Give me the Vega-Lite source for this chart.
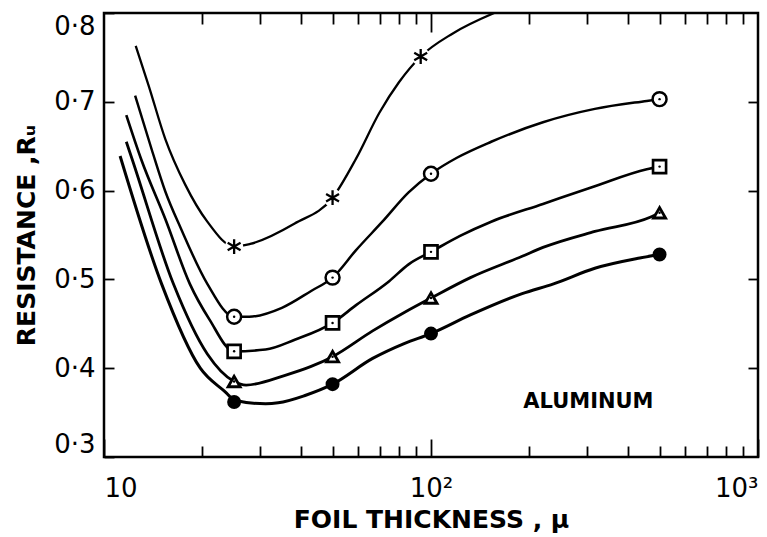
{
  "$schema": "https://vega.github.io/schema/vega-lite/v6.json",
  "width": 654,
  "height": 444,
  "autosize": {"type": "none"},
  "padding": {"left": 104, "right": 9, "top": 13, "bottom": 80},
  "background": "white",
  "config": {
    "view": {"stroke": "black", "strokeWidth": 2.5},
    "axis": {"grid": false, "domain": false, "tickColor": "black", "tickWidth": 1.8, "labelColor": "black", "titleColor": "black", "labelFont": "DejaVu Sans", "titleFont": "DejaVu Sans"}
  },
  "datasets": {
    "curves": [
      {"series": "star", "x": 12.5, "y": 0.763}, {"series": "star", "x": 13.7, "y": 0.718}, {"series": "star", "x": 15.4, "y": 0.658}, {"series": "star", "x": 17.7, "y": 0.607}, {"series": "star", "x": 20.7, "y": 0.565}, {"series": "star", "x": 25, "y": 0.537}, {"series": "star", "x": 28, "y": 0.54}, {"series": "star", "x": 38.3, "y": 0.563}, {"series": "star", "x": 50, "y": 0.592}, {"series": "star", "x": 59, "y": 0.636}, {"series": "star", "x": 69.6, "y": 0.688}, {"series": "star", "x": 79.8, "y": 0.722}, {"series": "star", "x": 93, "y": 0.751}, {"series": "star", "x": 116.6, "y": 0.777}, {"series": "star", "x": 156, "y": 0.8},
      {"series": "circle", "x": 12.45, "y": 0.707}, {"series": "circle", "x": 14.0, "y": 0.646}, {"series": "circle", "x": 15.4, "y": 0.599}, {"series": "circle", "x": 17.2, "y": 0.557}, {"series": "circle", "x": 20.7, "y": 0.495}, {"series": "circle", "x": 25, "y": 0.458}, {"series": "circle", "x": 27.8, "y": 0.458}, {"series": "circle", "x": 35, "y": 0.468}, {"series": "circle", "x": 43, "y": 0.487}, {"series": "circle", "x": 50, "y": 0.502}, {"series": "circle", "x": 59, "y": 0.533}, {"series": "circle", "x": 71, "y": 0.565}, {"series": "circle", "x": 85.4, "y": 0.598}, {"series": "circle", "x": 100, "y": 0.619}, {"series": "circle", "x": 120, "y": 0.637}, {"series": "circle", "x": 152.8, "y": 0.655}, {"series": "circle", "x": 220, "y": 0.677}, {"series": "circle", "x": 317, "y": 0.692}, {"series": "circle", "x": 457, "y": 0.701}, {"series": "circle", "x": 500, "y": 0.703},
      {"series": "square", "x": 11.7, "y": 0.685}, {"series": "square", "x": 13.0, "y": 0.635}, {"series": "square", "x": 15.4, "y": 0.568}, {"series": "square", "x": 18.3, "y": 0.495}, {"series": "square", "x": 21, "y": 0.455}, {"series": "square", "x": 25, "y": 0.419}, {"series": "square", "x": 31.2, "y": 0.421}, {"series": "square", "x": 38.3, "y": 0.432}, {"series": "square", "x": 50, "y": 0.451}, {"series": "square", "x": 59, "y": 0.471}, {"series": "square", "x": 74.5, "y": 0.498}, {"series": "square", "x": 85.4, "y": 0.517}, {"series": "square", "x": 100, "y": 0.531}, {"series": "square", "x": 122.7, "y": 0.549}, {"series": "square", "x": 152.8, "y": 0.565}, {"series": "square", "x": 220, "y": 0.585}, {"series": "square", "x": 317, "y": 0.605}, {"series": "square", "x": 457, "y": 0.624}, {"series": "square", "x": 500, "y": 0.627},
      {"series": "triangle", "x": 11.7, "y": 0.655}, {"series": "triangle", "x": 12.2, "y": 0.635}, {"series": "triangle", "x": 16.3, "y": 0.495}, {"series": "triangle", "x": 20.7, "y": 0.416}, {"series": "triangle", "x": 25, "y": 0.385}, {"series": "triangle", "x": 27.2, "y": 0.381}, {"series": "triangle", "x": 35.8, "y": 0.392}, {"series": "triangle", "x": 43, "y": 0.402}, {"series": "triangle", "x": 50, "y": 0.413}, {"series": "triangle", "x": 66.3, "y": 0.442}, {"series": "triangle", "x": 83.1, "y": 0.463}, {"series": "triangle", "x": 100, "y": 0.479}, {"series": "triangle", "x": 132, "y": 0.502}, {"series": "triangle", "x": 190, "y": 0.526}, {"series": "triangle", "x": 220, "y": 0.536}, {"series": "triangle", "x": 317, "y": 0.554}, {"series": "triangle", "x": 468, "y": 0.57}, {"series": "triangle", "x": 500, "y": 0.575},
      {"series": "filled", "x": 11.2, "y": 0.639}, {"series": "filled", "x": 15.0, "y": 0.495}, {"series": "filled", "x": 19.7, "y": 0.4}, {"series": "filled", "x": 23.7, "y": 0.372}, {"series": "filled", "x": 25, "y": 0.364}, {"series": "filled", "x": 31.2, "y": 0.36}, {"series": "filled", "x": 34.1, "y": 0.361}, {"series": "filled", "x": 41, "y": 0.369}, {"series": "filled", "x": 50, "y": 0.382}, {"series": "filled", "x": 66.3, "y": 0.411}, {"series": "filled", "x": 83.1, "y": 0.428}, {"series": "filled", "x": 100, "y": 0.439}, {"series": "filled", "x": 132, "y": 0.46}, {"series": "filled", "x": 190, "y": 0.484}, {"series": "filled", "x": 237, "y": 0.495}, {"series": "filled", "x": 317, "y": 0.5125}, {"series": "filled", "x": 435, "y": 0.524}, {"series": "filled", "x": 500, "y": 0.528}
    ],
    "markers": [
      {"series": "star", "x": 25, "y": 0.537}, {"series": "star", "x": 50, "y": 0.592}, {"series": "star", "x": 93, "y": 0.751},
      {"series": "circle", "x": 25, "y": 0.458}, {"series": "circle", "x": 50, "y": 0.502}, {"series": "circle", "x": 100, "y": 0.619}, {"series": "circle", "x": 500, "y": 0.703},
      {"series": "square", "x": 25, "y": 0.419}, {"series": "square", "x": 50, "y": 0.451}, {"series": "square", "x": 100, "y": 0.531}, {"series": "square", "x": 500, "y": 0.627},
      {"series": "triangle", "x": 25, "y": 0.385}, {"series": "triangle", "x": 50, "y": 0.413}, {"series": "triangle", "x": 100, "y": 0.479}, {"series": "triangle", "x": 500, "y": 0.575},
      {"series": "filled", "x": 25, "y": 0.362}, {"series": "filled", "x": 50, "y": 0.382}, {"series": "filled", "x": 100, "y": 0.439}, {"series": "filled", "x": 500, "y": 0.528}
    ],
    "notes": [
      {"x": 303, "y": 0.362, "label": "ALUMINUM"}
    ]
  },
  "resolve": {"axis": {"x": "independent", "y": "independent"}},
  "layer": [
    {
      "data": {"name": "curves"},
      "mark": {"type": "line", "color": "black", "interpolate": "monotone", "clip": true},
      "encoding": {
        "x": {"field": "x", "type": "quantitative", "scale": {"type": "log", "domain": [10, 1000], "nice": false},
          "axis": {"orient": "bottom", "values": [10, 100, 1000], "tickSize": -18, "labelPadding": 36, "labelFontSize": 26, "labelFontWeight": "normal",
            "labelExpr": "datum.value == 10 ? '10' : datum.value == 100 ? '10²' : '10³'", "labelFlush": true,
            "title": "FOIL THICKNESS , μ", "titleFontSize": 25, "titleFontWeight": "bold", "titlePadding": 6}},
        "y": {"field": "y", "type": "quantitative", "scale": {"domain": [0.3, 0.8], "nice": false, "zero": false},
          "axis": {"orient": "left", "values": [0.3, 0.4, 0.5, 0.6, 0.7, 0.8], "tickSize": -10, "labelPadding": 19, "labelFontSize": 26,
            "labelExpr": "replace(format(datum.value, '.1f'), '.', '·')", "labelFlush": true,
            "title": "RESISTANCE ,Rᵤ", "titleFontSize": 25, "titleFontWeight": "bold", "titlePadding": 14}},
        "detail": {"field": "series", "type": "nominal"},
        "strokeWidth": {"field": "series", "type": "nominal", "legend": null,
          "scale": {"domain": ["star", "circle", "square", "triangle", "filled"], "range": [2.3, 3, 3, 3, 3]}}
      }
    },
    {
      "data": {"name": "markers"},
      "transform": [{"filter": "datum.series == 'star'"}],
      "mark": {"type": "point", "filled": true, "color": "white", "size": 330, "opacity": 1},
      "encoding": {
        "x": {"field": "x", "type": "quantitative", "scale": {"type": "log", "domain": [10, 1000], "nice": false}, "axis": {"orient": "top", "values": [20, 30, 40, 50, 60, 70, 80, 90, 200, 300, 400, 500, 600, 700, 800, 900], "tickSize": -11, "labels": false, "title": null}},
        "y": {"field": "y", "type": "quantitative", "scale": {"domain": [0.3, 0.8], "nice": false, "zero": false}, "axis": {"orient": "right", "values": [0.4, 0.5, 0.6, 0.7], "tickSize": -10, "labels": false, "title": null}}
      }
    },
    {
      "data": {"name": "markers"},
      "mark": {"type": "point", "opacity": 1},
      "encoding": {
        "x": {"field": "x", "type": "quantitative", "scale": {"type": "log", "domain": [10, 1000], "nice": false}, "axis": {"orient": "bottom", "values": [20, 30, 40, 50, 60, 70, 80, 90, 200, 300, 400, 500, 600, 700, 800, 900], "tickSize": -11, "labels": false, "title": null}},
        "y": {"field": "y", "type": "quantitative", "scale": {"domain": [0.3, 0.8], "nice": false, "zero": false}, "axis": null},
        "shape": {"field": "series", "type": "nominal", "legend": null,
          "scale": {"domain": ["star", "circle", "square", "triangle", "filled"], "range": ["M0,-1L0,1M-0.87,-0.5L0.87,0.5M-0.87,0.5L0.87,-0.5", "circle", "square", "triangle-up", "circle"]}},
        "size": {"field": "series", "type": "nominal", "legend": null,
          "scale": {"domain": ["star", "circle", "square", "triangle", "filled"], "range": [220, 120, 110, 240, 150]}},
        "strokeWidth": {"field": "series", "type": "nominal", "legend": null,
          "scale": {"domain": ["star", "circle", "square", "triangle", "filled"], "range": [3.2, 2.4, 2.4, 2.6, 2]}},
        "fill": {"field": "series", "type": "nominal", "legend": null,
          "scale": {"domain": ["star", "circle", "square", "triangle", "filled"], "range": ["none", "white", "white", "white", "black"]}},
        "stroke": {"value": "black"}
      }
    },
    {
      "data": {"name": "markers"},
      "transform": [{"filter": "datum.series != 'star' && datum.series != 'filled'"}],
      "mark": {"type": "circle", "color": "black", "size": 6, "opacity": 1},
      "encoding": {
        "x": {"field": "x", "type": "quantitative", "scale": {"type": "log", "domain": [10, 1000], "nice": false}, "axis": {"orient": "top", "values": [100], "tickSize": -19, "labels": false, "title": null}},
        "y": {"field": "y", "type": "quantitative", "scale": {"domain": [0.3, 0.8], "nice": false, "zero": false}, "axis": null}
      }
    },
    {
      "data": {"name": "notes"},
      "mark": {"type": "text", "font": "DejaVu Sans", "fontSize": 21, "fontWeight": "bold", "align": "center", "baseline": "middle", "color": "black"},
      "encoding": {
        "x": {"field": "x", "type": "quantitative", "scale": {"type": "log", "domain": [10, 1000], "nice": false}, "axis": null},
        "y": {"field": "y", "type": "quantitative", "scale": {"domain": [0.3, 0.8], "nice": false, "zero": false}, "axis": null},
        "text": {"field": "label"}
      }
    }
  ]
}
